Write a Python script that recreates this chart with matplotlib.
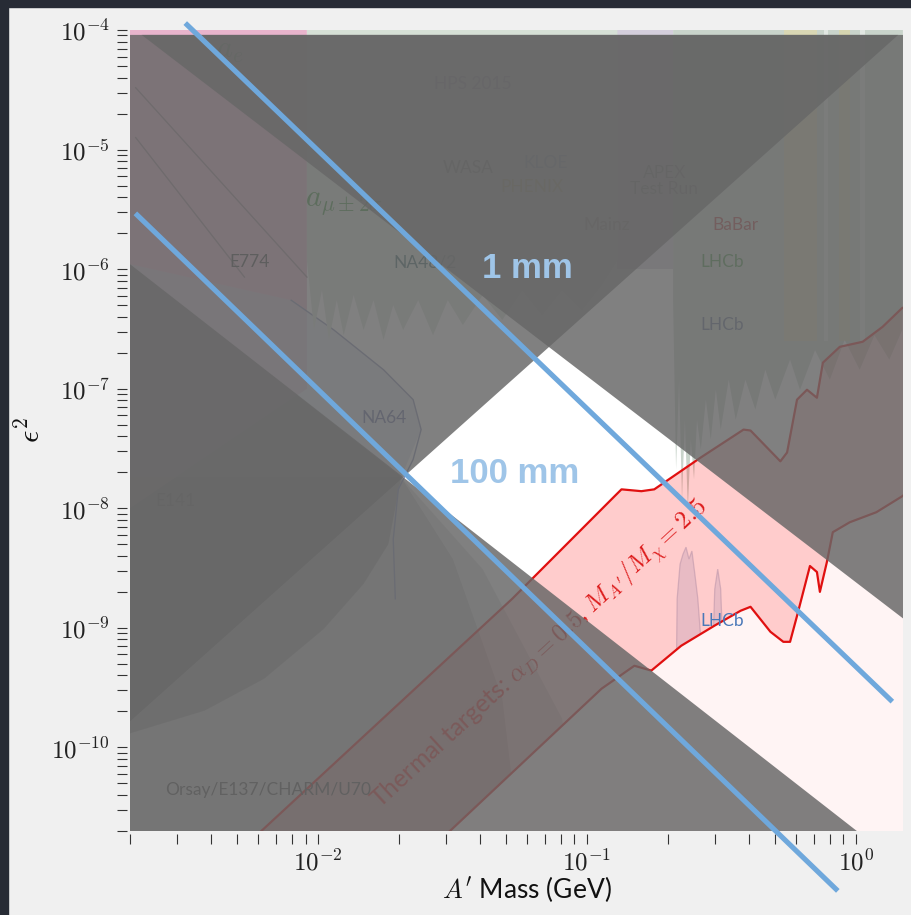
import matplotlib
matplotlib.use('Agg')
import matplotlib.pyplot as plt
from matplotlib.patches import Rectangle
from matplotlib.ticker import LogLocator, FixedLocator, FuncFormatter, NullFormatter
import numpy as np

plt.rcParams['mathtext.fontset'] = 'cm'
plt.rcParams['font.family'] = ['Lato', 'DejaVu Sans']

# plot range (GeV, eps^2)
m_lim = (0.002, 1.5)
e2_lim = (2e-11, 1e-4)
shade_top = 9.1e-5
m_major = [1e-2, 1e-1, 1e0]
e2_major = [1e-10, 1e-9, 1e-8, 1e-7, 1e-6, 1e-5, 1e-4]

# decay length wedge edges
rise_m = [0.002, 1.44]
rise_e2 = [1.65e-10, 9.1e-5]
upper_m = [0.00221, 1.5]
upper_e2 = [9.1e-5, 1.2e-9]
lower_m = [0.002, 1.5]
lower_e2 = [1.1e-6, 1.0e-11]

# fixed decay length lines
mm1_m = [0.00321, 1.369]
mm1_e2 = [1.143e-4, 2.415e-10]
mm100_m = [0.002094, 0.8583]
mm100_e2 = [2.93e-6, 6.31e-12]

# thermal relic band
therm_hi_m = [0.00398, 0.00632, 0.0528, 0.1268, 0.1346, 0.1596, 0.1782, 0.2655, 0.3828, 0.4064,
              0.5248, 0.5559, 0.6053, 0.6592, 0.7178, 0.7551, 0.873, 1.062, 1.259, 1.489, 1.585]
therm_hi_e2 = [8.1e-12, 2.11e-11, 1.75e-9, 1.26e-8, 1.44e-8, 1.39e-8, 1.44e-8, 2.66e-8, 4.55e-8, 4.47e-8,
               2.47e-8, 2.93e-8, 8.1e-8, 9.8e-8, 8.4e-8, 1.65e-7, 2.24e-7, 2.47e-7, 3.29e-7, 4.73e-7, 5.0e-7]
therm_lo_m = [0.01995, 0.03177, 0.1135, 0.1503, 0.1738, 0.2244, 0.3, 0.3733, 0.4064, 0.482, 0.5383, 0.5702,
              0.6053, 0.6761, 0.7178, 0.7362, 0.7816, 0.8222, 0.9506, 1.194, 1.489, 1.585]
therm_lo_e2 = [7.9e-12, 2.11e-11, 3.1e-10, 4.82e-10, 4.39e-10, 7.08e-10, 1.05e-9, 1.39e-9, 1.5e-9, 9.27e-10,
               7.64e-10, 7.64e-10, 1.26e-9, 3.29e-9, 2.93e-9, 2.0e-9, 3.55e-9, 6.31e-9, 7.64e-9, 9.27e-9,
               1.26e-8, 1.41e-8]

# beam dump regions
bd_far_m = [0.002, 0.0204, 0.041, 0.0809, 0.1135, 0.002]
bd_far_e2 = [1.1e-6, 1.81e-8, 3.1e-9, 1.75e-10, 1e-12, 1e-12]
bd_mid_m = [0.002, 0.0204, 0.03177, 0.0485, 0.065, 0.002]
bd_mid_e2 = [1.1e-6, 1.81e-8, 3.76e-9, 2.56e-10, 1e-12, 1e-12]
bd_core_m = [0.002, 0.00379, 0.00632, 0.01052, 0.01479, 0.01828, 0.0204, 0.002]
bd_core_e2 = [1.31e-10, 2.03e-10, 3.76e-10, 9.8e-10, 2.33e-9, 5.01e-9, 1.81e-8, 1.1e-6]

# electron g-2 / E141 / E774
pink_m = [0.002, 0.0091, 0.0091, 0.002]
pink_e2 = [2e-4, 2e-4, 1e-7, 1e-8]
edge1_m = [0.0021, 0.0091]
edge1_e2 = [3.29e-5, 8.58e-7]
edge2_m = [0.0021, 0.00533]
edge2_e2 = [1.26e-5, 8.58e-7]

# NA64 lobe
na64_m = [0.00795, 0.01146, 0.01754, 0.0226, 0.0242, 0.0226, 0.0199, 0.01906, 0.0194]
na64_e2 = [5.5e-7, 3.1e-7, 1.44e-7, 8.1e-8, 4.55e-8, 2.56e-8, 1.44e-8, 5.5e-9, 1.75e-9]

# NA48/2 lower edge
na48_m = [0.0091, 0.00967, 0.01035, 0.01099, 0.01175, 0.01247, 0.01358, 0.01479, 0.0161, 0.01754, 0.01906,
          0.02075, 0.0236, 0.0268, 0.0304, 0.0346, 0.041, 0.0485, 0.0575, 0.0682, 0.0809, 0.0959, 0.1135, 0.13]
na48_e2 = [1.19e-6, 3.1e-7, 6.68e-7, 2.56e-7, 5.5e-7, 2.8e-7, 6.07e-7, 3.1e-7, 5.5e-7, 2.56e-7, 5.0e-7,
           3.1e-7, 5.5e-7, 2.8e-7, 5.5e-7, 3.41e-7, 6.07e-7, 3.76e-7, 6.68e-7, 4.14e-7, 6.68e-7, 4.55e-7, 7.36e-7, 1.19e-6]

# LHCb prompt lower edge
lhcb_m = [0.2094, 0.2148, 0.2204, 0.226, 0.2317, 0.2376, 0.2437, 0.2505, 0.257, 0.2655, 0.2773, 0.2891, 0.302,
          0.3148, 0.3373, 0.358, 0.389, 0.4236, 0.4613, 0.5023, 0.5702, 0.6209, 0.7063, 0.8017, 0.91, 1.035,
          1.175, 1.334, 1.49]
lhcb_e2 = [5.5e-7, 2.1e-8, 1.19e-7, 1.19e-8, 5.5e-8, 9.8e-9, 3.76e-8, 1.75e-8, 5.5e-8, 3.1e-8, 8.1e-8, 3.76e-8,
           9.8e-8, 4.55e-8, 1.19e-7, 5.5e-8, 1.19e-7, 6.7e-8, 1.44e-7, 8.1e-8, 1.75e-7, 9.8e-8, 2.1e-7, 1.19e-7,
           2.56e-7, 1.44e-7, 2.8e-7, 1.75e-7, 3.1e-7]

# LHCb displaced islands
isl1_m = [0.2148, 0.2168, 0.2223, 0.228, 0.2339, 0.2399, 0.246, 0.2523, 0.2588, 0.2655, 0.2723, 0.2704,
          0.2636, 0.257, 0.2506, 0.2438, 0.2377, 0.2317, 0.2259, 0.2203]
isl1_e2 = [2.56e-10, 1.75e-9, 3.41e-9, 4.14e-9, 4.73e-9, 3.76e-9, 4.39e-9, 2.82e-9, 1.75e-9, 8.1e-10, 3.76e-10,
           2.56e-10, 3.1e-10, 5.0e-10, 2.56e-10, 1.31e-10, 3.1e-10, 1.44e-10, 1.19e-10, 1.75e-10]
isl2_m = [0.2944, 0.2992, 0.3069, 0.3148, 0.3206, 0.3177, 0.3097, 0.2992]
isl2_e2 = [6.68e-10, 2.11e-9, 3.1e-9, 2.11e-9, 6.68e-10, 2.56e-10, 1.92e-10, 2.33e-10]

# narrow bump-hunt strips at high mass
strip_lo = [0.54, 0.76, 0.87, 1.04]
strip_hi = [0.72, 0.79, 0.95, 1.08]
strip_col = ['#eedc98', '#ffffff', '#e8d890', '#ffffff']

# experiment labels
lab_text = ['E774', 'E141', 'NA48/2', r'$a_{\mu\pm 2\sigma}$', r'$a_e$', 'HPS 2015', 'WASA', 'KLOE', 'PHENIX',
            'APEX\nTest Run', 'Mainz', 'BaBar', 'LHCb', 'LHCb', 'LHCb', 'NA64', 'Orsay/E137/CHARM/U70']
lab_m = [0.00556, 0.00294, 0.025, 0.0125, 0.0047, 0.0377, 0.0361, 0.070, 0.0627,
         0.194, 0.1186, 0.357, 0.318, 0.318, 0.318, 0.01767, 0.00654]
lab_e2 = [1.14e-6, 1.14e-8, 1.14e-6, 3.6e-6, 6.68e-5, 3.55e-5, 7.08e-6, 7.66e-6, 4.83e-6,
          5.5e-6, 2.33e-6, 2.33e-6, 1.14e-6, 3.41e-7, 1.14e-9, 5.73e-8, 4.38e-11]
lab_col = ['#333333', '#333333', '#2f5f5f', '#2e8b2e', '#2e8b2e', '#6a4f9a', '#333333', '#4a6fb0', '#b0a020',
           '#444444', '#6a4a4a', '#b03535', '#3d8f3d', '#556688', '#4a78b8', '#55609a', '#444444']

fig = plt.figure(figsize=(9.11, 9.15), dpi=100)
fig.patch.set_facecolor('#f0f0f0')
fig.add_artist(Rectangle((0, 1 - 7 / 915), 1, 7 / 915, transform=fig.transFigure, color='#272b35', zorder=0))
fig.add_artist(Rectangle((0, 0), 8 / 911, 1, transform=fig.transFigure, color='#272b35', zorder=0))

ax = fig.add_axes([130 / 911, 84 / 915, 773 / 911, 801 / 915])
ax.set_xscale('log')
ax.set_yscale('log')
ax.set_facecolor('white')

# existing limits
ax.fill(bd_far_m, bd_far_e2, color='#dedede', lw=0, zorder=1)
ax.fill(bd_mid_m, bd_mid_e2, color='#bdbdbd', lw=0, zorder=1.1)
ax.fill(bd_core_m, bd_core_e2, color='#969696', lw=0, zorder=1.2)
ax.fill(pink_m, pink_e2, color='#e8b4cc', lw=0, zorder=1.3)
ax.plot(edge1_m, edge1_e2, color='#9a7f8c', lw=1, zorder=1.35)
ax.plot(edge2_m, edge2_e2, color='#9a7f8c', lw=1, zorder=1.35)
ax.fill([0.002] + na64_m[:5] + [0.0204, 0.002], [1.1e-6] + na64_e2[:5] + [1.81e-8, 1.81e-8],
        color='#c9cde0', alpha=0.6, lw=0, zorder=1.4)
ax.plot(na64_m, na64_e2, color='#7d86b0', lw=1, zorder=1.5)
ax.fill([0.13, 0.2094, 0.2094, 0.13], [1e-6, 1e-6, 2e-4, 2e-4], color='#d4cedc', lw=0, zorder=1.55)
ax.fill(na48_m + [0.13, 0.0091], na48_e2 + [2e-4, 2e-4], color='#d6e0d6', lw=0, zorder=1.6)
ax.fill(lhcb_m + [1.5, 0.2094], lhcb_e2 + [2e-4, 2e-4], color='#c9d4cb', lw=0, zorder=1.7)
for lo, hi, c in zip(strip_lo, strip_hi, strip_col):
    ax.fill([lo, hi, hi, lo], [2.5e-7, 2.5e-7, 2e-4, 2e-4], color=c, alpha=0.45, lw=0, zorder=1.8)
ax.fill(isl1_m, isl1_e2, facecolor='#c2d2ea', edgecolor='#9aaccb', alpha=0.45, lw=0.9, zorder=2)
ax.fill(isl2_m, isl2_e2, facecolor='#c2d2ea', edgecolor='#9aaccb', alpha=0.45, lw=0.9, zorder=2)

# faint projection below the relic band
ax.fill(therm_lo_m + [1.585, 0.01995], therm_lo_e2 + [1e-12, 1e-12], color='#fff4f4', lw=0, zorder=2.5)

# thermal targets band
ax.fill(therm_hi_m + therm_lo_m[::-1], therm_hi_e2 + therm_lo_e2[::-1], color='red', alpha=0.2, lw=0, zorder=3)
ax.plot(therm_hi_m, therm_hi_e2, color='#e01010', lw=1.6, zorder=3.1)
ax.plot(therm_lo_m, therm_lo_e2, color='#e01010', lw=1.6, zorder=3.1)
ax.text(0.0675, 6.0e-10, r"Thermal targets: $\alpha_D = 0.5$, $M_{A'}/M_\chi = 2.5$", color='#dd1c1c',
        fontsize=18, rotation=42.5, ha='center', va='center', zorder=3.2)

for t, m, e, c in zip(lab_text, lab_m, lab_e2, lab_col):
    fs = 22 if t.startswith('$') else 12.5
    ax.text(m, e, t, color=c, fontsize=fs, ha='center', va='center', zorder=4, linespacing=1.0)

# shading outside the lifetime window
shade = dict(color='#676767', alpha=0.835, lw=0, zorder=10)
ax.fill([rise_m[0], rise_m[1], rise_m[0]], [rise_e2[0], rise_e2[1], shade_top], **shade)
ax.fill([upper_m[0], upper_m[1], upper_m[1]], [upper_e2[0], upper_e2[1], shade_top], **shade)
ax.fill([lower_m[0], lower_m[1], lower_m[1], lower_m[0]], [lower_e2[0], lower_e2[1], 1e-12, 1e-12], **shade)

# decay length lines
ax.plot(mm1_m, mm1_e2, color='#6fa8dc', lw=3.7, solid_capstyle='butt', clip_on=False, zorder=12)
ax.plot(mm100_m, mm100_e2, color='#6fa8dc', lw=3.7, solid_capstyle='butt', clip_on=False, zorder=12)
ax.text(0.0601, 1.02e-6, '1 mm', color='#9fc5e8', fontsize=25, fontweight='bold',
        family=['Liberation Sans', 'DejaVu Sans'], ha='center', va='center', zorder=13)
ax.text(0.0538, 1.96e-8, '100 mm', color='#9fc5e8', fontsize=25, fontweight='bold',
        family=['Liberation Sans', 'DejaVu Sans'], ha='center', va='center', zorder=13)

ax.set_xlim(*m_lim)
ax.set_ylim(*e2_lim)

fmt = FuncFormatter(lambda v, p: r'$10^{%d}$' % int(round(np.log10(v))))
ax.xaxis.set_major_locator(FixedLocator(m_major))
ax.yaxis.set_major_locator(FixedLocator(e2_major))
for axis in (ax.xaxis, ax.yaxis):
    axis.set_minor_locator(LogLocator(base=10, subs=np.arange(2, 10), numticks=40))
    axis.set_major_formatter(fmt)
    axis.set_minor_formatter(NullFormatter())

for s in ax.spines.values():
    s.set_color('none')
ax.spines['left'].set_position(('outward', 2))
ax.spines['bottom'].set_position(('outward', 2))
ax.tick_params(which='both', direction='out', length=7.5, width=0.8, color='#333333',
               labelsize=18, labelcolor='#222222')
ax.tick_params(axis='y', pad=5)
ax.tick_params(axis='x', pad=3)

ax.set_xlabel(r"$A'$ Mass (GeV)", fontsize=19, color='#111111')
ax.xaxis.set_label_coords(0.514, -0.054)
ax.set_ylabel(r'$\epsilon^2$', fontsize=22, color='#111111')
ax.yaxis.set_label_coords(-0.11, 0.5)

fig.savefig('out.png', dpi=100, facecolor=fig.get_facecolor())
